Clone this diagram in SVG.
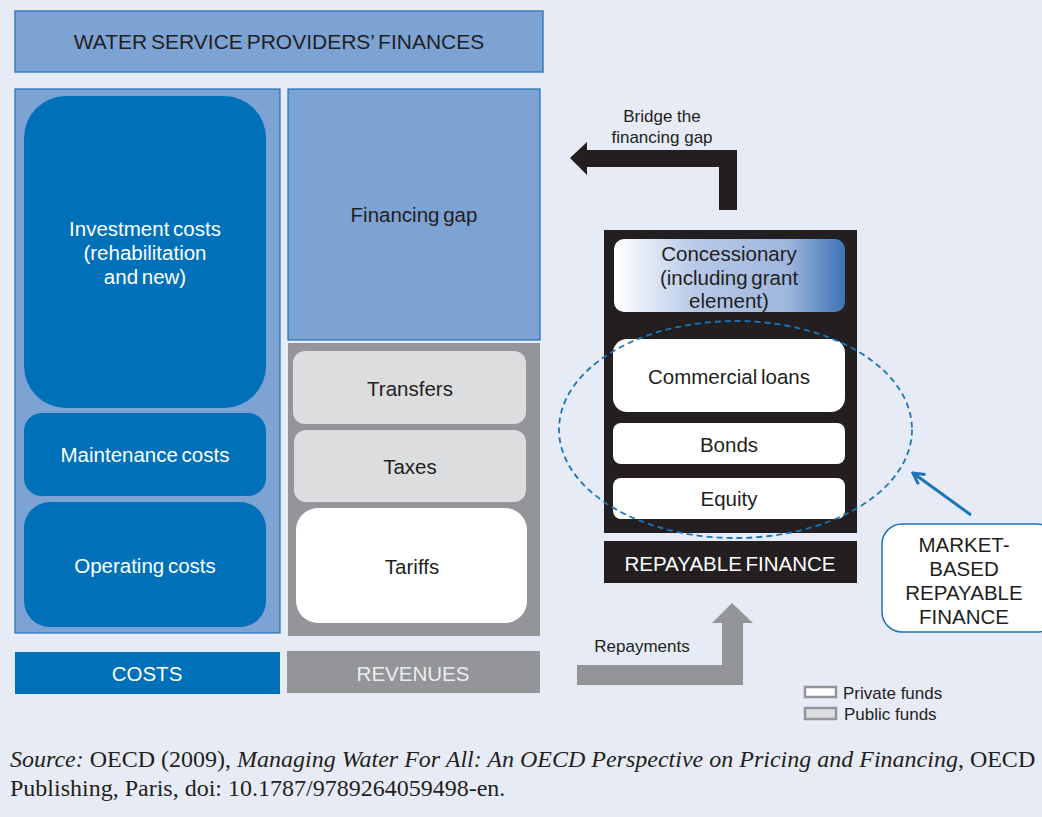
<svg xmlns="http://www.w3.org/2000/svg" width="1042" height="817" viewBox="0 0 1042 817">
<style>
text{font-family:"Liberation Sans",Arial,sans-serif;text-anchor:middle}
.t18{font-size:20.5px;word-spacing:-2px}
.dk{fill:#231f20}
.wh{fill:#ffffff}
.src{font-family:"Liberation Serif","Times New Roman",serif;font-size:24px;text-anchor:start;fill:#231f20}
.sm{font-size:17px}
</style>
<defs>
<linearGradient id="conc" x1="0" y1="0" x2="1" y2="0">
<stop offset="0" stop-color="#ffffff"/>
<stop offset="0.35" stop-color="#b8c9e8"/>
<stop offset="0.75" stop-color="#9fb7df"/>
<stop offset="1" stop-color="#3d72b6"/>
</linearGradient>
<marker id="open" markerWidth="14" markerHeight="14" refX="12" refY="7" orient="auto" markerUnits="userSpaceOnUse">
<path d="M1,1 L12,7 L1,13" fill="none" stroke="#1b75bb" stroke-width="3"/>
</marker>
</defs>
<rect width="1042" height="817" fill="#e6ebf5"/>

<g id="title">
<rect x="15" y="11" width="528" height="61" fill="#7da2d4" stroke="#3a7cc0" stroke-width="1.5"/>
<text x="279" y="49" class="dk" style="font-size:21px;word-spacing:-2px">WATER SERVICE PROVIDERS’ FINANCES</text>
</g>

<g id="costs-panel">
<rect x="15" y="89" width="265" height="544" fill="#7da2d4" stroke="#1f72b8" stroke-width="1.2"/>
</g>
<g id="investment">
<rect x="24" y="96" width="242" height="312" rx="42" fill="#0071b9"/>
<text x="145" y="236" class="t18 wh">Investment costs</text>
<text x="145" y="260" class="t18 wh">(rehabilitation</text>
<text x="145" y="284" class="t18 wh">and new)</text>
</g>
<g id="maintenance">
<rect x="24" y="413" width="242" height="83" rx="18" fill="#0071b9"/>
<text x="145" y="462" class="t18 wh">Maintenance costs</text>
</g>
<g id="operating">
<rect x="24" y="502" width="242" height="125" rx="26" fill="#0071b9"/>
<text x="145" y="573" class="t18 wh">Operating costs</text>
</g>

<g id="financing-gap">
<rect x="288" y="89" width="252" height="251" fill="#7da2d4" stroke="#1f72b8" stroke-width="1.2"/>
<text x="414" y="222" class="t18 dk">Financing gap</text>
</g>
<g id="revenues-panel">
<rect x="288" y="343" width="252" height="293" fill="#939598"/>
</g>
<g id="transfers">
<rect x="293" y="351" width="233" height="73" rx="12" fill="#dcdddf"/>
<text x="410" y="396" class="t18 dk">Transfers</text>
</g>
<g id="taxes">
<rect x="294" y="430" width="232" height="72" rx="12" fill="#dcdddf"/>
<text x="410" y="474" class="t18 dk">Taxes</text>
</g>
<g id="tariffs">
<rect x="296" y="508" width="231" height="115" rx="22" fill="#ffffff"/>
<text x="412" y="574" class="t18 dk">Tariffs</text>
</g>

<g id="costs-label">
<rect x="15" y="652" width="265" height="42" fill="#0071b9"/>
<text x="147" y="681" class="t18 wh">COSTS</text>
</g>
<g id="revenues-label">
<rect x="287" y="651" width="253" height="42" fill="#939598"/>
<text x="413" y="681" class="t18" fill="#eceded">REVENUES</text>
</g>

<g id="repayable-stack">
<rect x="604" y="230" width="253" height="303" fill="#231f20"/>
</g>
<g id="concessionary">
<rect x="614" y="239" width="231" height="73" rx="10" fill="url(#conc)"/>
<text x="729" y="261" class="t18 dk">Concessionary</text>
<text x="729" y="285" class="t18 dk">(including grant</text>
<text x="729" y="308" class="t18 dk">element)</text>
</g>
<g id="commercial-loans">
<rect x="613" y="339" width="232" height="73" rx="14" fill="#ffffff"/>
<text x="729" y="384" class="t18 dk">Commercial loans</text>
</g>
<g id="bonds">
<rect x="613" y="423" width="232" height="41" rx="8" fill="#ffffff"/>
<text x="729" y="452" class="t18 dk">Bonds</text>
</g>
<g id="equity">
<rect x="613" y="478" width="232" height="41" rx="8" fill="#ffffff"/>
<text x="729" y="506" class="t18 dk">Equity</text>
</g>
<g id="repayable-label">
<rect x="604" y="541" width="253" height="42" fill="#231f20"/>
<text x="730" y="571" class="t18 wh">REPAYABLE FINANCE</text>
</g>

<g id="market-based">
<rect x="882" y="524" width="175" height="108" rx="20" fill="#ffffff" stroke="#1b75bb" stroke-width="1.5"/>
<text x="964" y="552" class="t18 dk">MARKET-</text>
<text x="964" y="576" class="t18 dk">BASED</text>
<text x="964" y="600" class="t18 dk">REPAYABLE</text>
<text x="964" y="624" class="t18 dk">FINANCE</text>
</g>

<g id="connectors">
<ellipse cx="735.5" cy="429.5" rx="176.5" ry="108.5" fill="none" stroke="#1b75bb" stroke-width="1.8" stroke-dasharray="6 4"/>
<line x1="971" y1="515" x2="913" y2="473" stroke="#1b75bb" stroke-width="3" marker-end="url(#open)"/>
<path d="M737,210 L719,210 L719,167 L587,167 L587,175 L570,158 L587,142 L587,150 L737,150 Z" fill="#231f20"/>
<text x="662" y="122" class="sm dk">Bridge the</text>
<text x="662" y="143" class="sm dk">financing gap</text>
<path d="M577,665 L722,665 L722,623 L712,623 L732,603 L753,623 L743,623 L743,685 L577,685 Z" fill="#939598"/>
<text x="642" y="652" class="sm dk">Repayments</text>
</g>

<g id="legend">
<rect x="805" y="687" width="31" height="10" fill="#ffffff" stroke="#939598" stroke-width="2.5"/>
<text x="843" y="699" class="sm dk" style="text-anchor:start">Private funds</text>
<rect x="805" y="708" width="31" height="11" fill="#dcdddf" stroke="#939598" stroke-width="2.5"/>
<text x="844" y="720" class="sm dk" style="text-anchor:start">Public funds</text>
</g>

<g id="source">
<text x="10" y="767" class="src"><tspan font-style="italic">Source:</tspan> OECD (2009), <tspan font-style="italic">Managing Water For All: An OECD Perspective on Pricing and Financing</tspan>, OECD</text>
<text x="10" y="796" class="src">Publishing, Paris, doi: 10.1787/9789264059498-en.</text>
</g>
</svg>
